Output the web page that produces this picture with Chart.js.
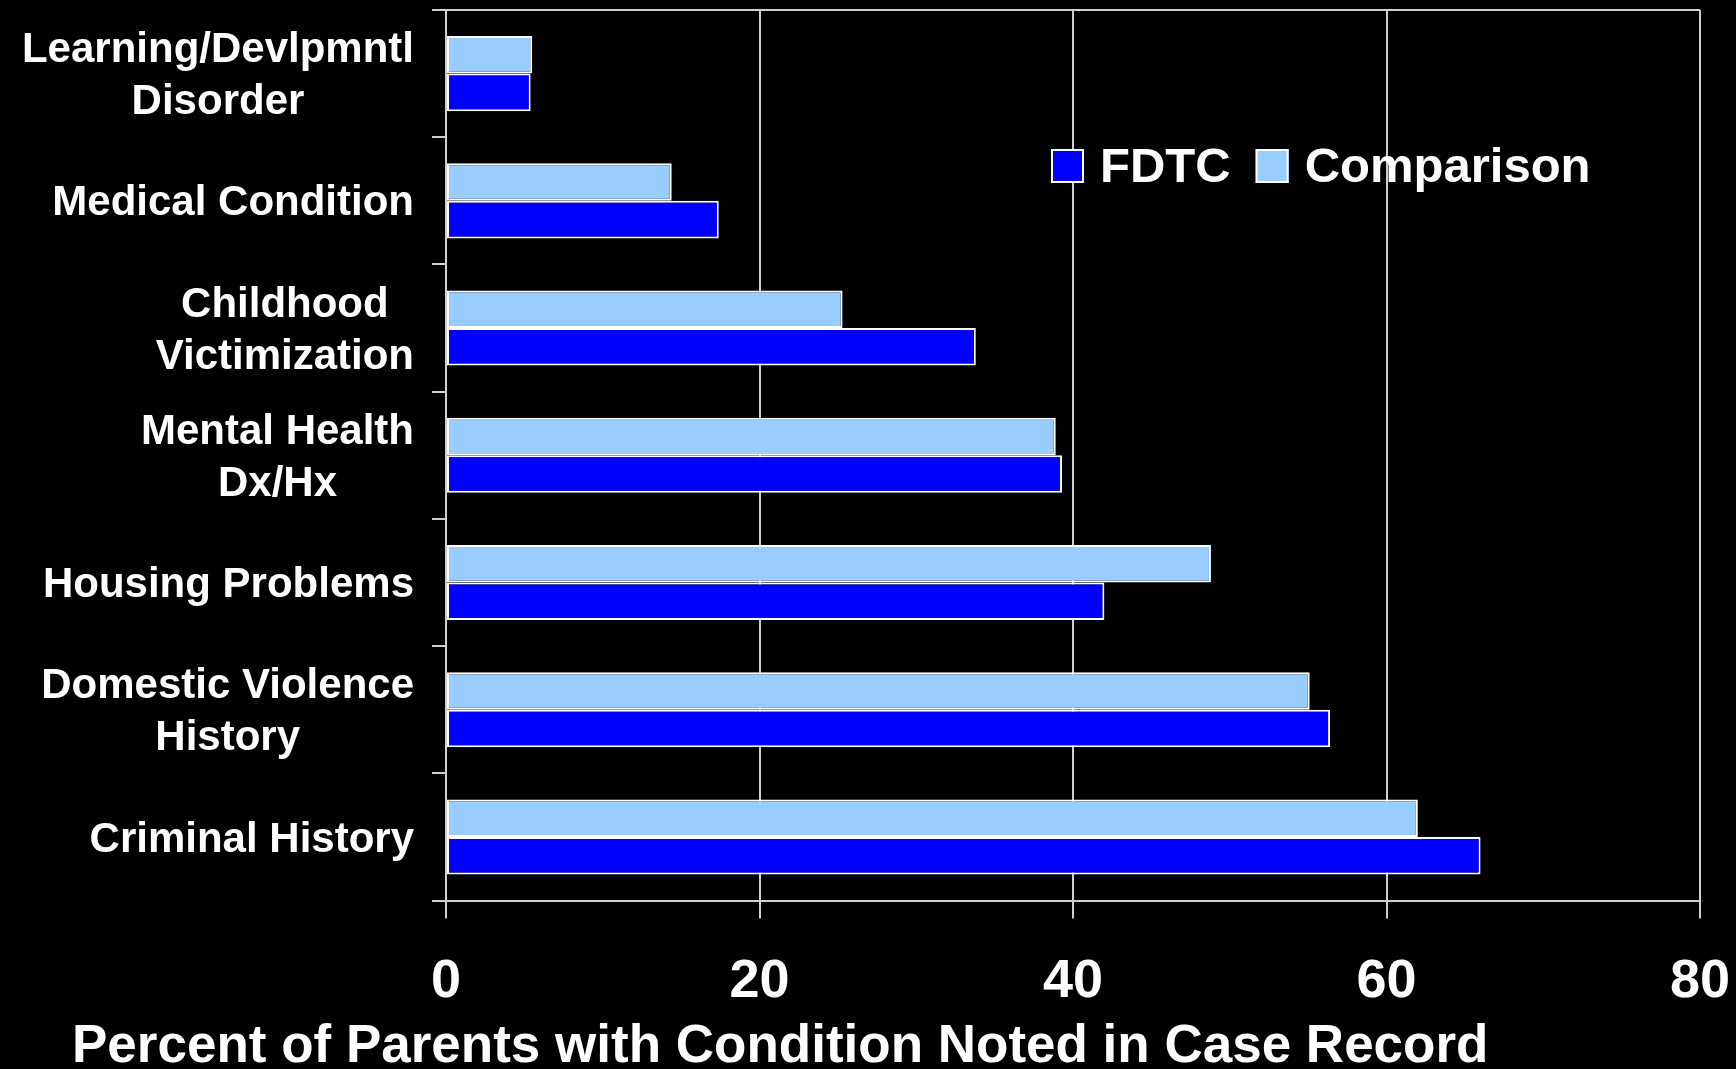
<!DOCTYPE html>
<html>
<head>
<meta charset="utf-8">
<script src="https://cdn.jsdelivr.net/npm/chart.js@4.4.1/dist/chart.umd.min.js"></script>
<style>
  html, body { margin: 0; padding: 0; background: #000; }
  canvas { display: block; }
</style>
</head>
<body>
<canvas id="chart" width="1736" height="1069"></canvas>
<script>
// categories top to bottom, each one split into its printed lines
const categories = [
  ['Learning/Devlpmntl', 'Disorder'],
  ['Medical Condition'],
  ['Childhood', 'Victimization'],
  ['Mental Health', 'Dx/Hx'],
  ['Housing Problems'],
  ['Domestic Violence', 'History'],
  ['Criminal History']
];
const fdtcValues = [5.4, 17.4, 33.8, 39.3, 42.0, 56.4, 66.0];
const comparisonValues = [5.5, 14.4, 25.3, 38.9, 48.8, 55.1, 62.0];
const xTicks = [0, 20, 40, 60, 80];
const axisTitle = 'Percent of Parents with Condition Noted in Case Record';

const FONT = '"Liberation Sans", Arial, sans-serif';
const LINE = '#cfcfcf';

Chart.defaults.font.family = FONT;
Chart.defaults.color = '#fff';

// category names: block right aligned, lines centred inside the block
const categoryLabels = {
  id: 'categoryLabels',
  afterDraw(chart) {
    const ctx = chart.ctx;
    const yScale = chart.scales.y;
    const right = chart.chartArea.left - 32;
    const lh = 52;
    ctx.save();
    ctx.font = 'bold 42px ' + FONT;
    ctx.fillStyle = '#fff';
    ctx.textAlign = 'center';
    ctx.textBaseline = 'middle';
    chart.data.labels.forEach((lines, i) => {
      const y = yScale.getPixelForTick(i) + 3;
      const w = Math.max(...lines.map(l => ctx.measureText(l).width));
      const cx = right - w / 2;
      const top = y - (lines.length - 1) * lh / 2;
      lines.forEach((l, j) => ctx.fillText(l, cx, top + j * lh));
    });
    ctx.restore();
  }
};

// legend sits inside the plot, FDTC first
const insideLegend = {
  id: 'insideLegend',
  afterDraw(chart) {
    const ctx = chart.ctx;
    const area = chart.chartArea;
    let x = area.left + 605;
    const y = area.top + 156;
    ctx.save();
    ctx.font = 'bold 49px ' + FONT;
    ctx.textBaseline = 'middle';
    ctx.textAlign = 'left';
    chart.data.datasets.slice().reverse().forEach(ds => {
      ctx.fillStyle = ds.backgroundColor;
      ctx.fillRect(x, y - 17, 33, 34);
      ctx.strokeStyle = '#fff';
      ctx.lineWidth = 2;
      ctx.strokeRect(x + 1, y - 16, 31, 32);
      x += 33 + 16;
      ctx.fillStyle = '#fff';
      ctx.fillText(ds.label, x, y + 2);
      x += ctx.measureText(ds.label).width + 25;
    });
    ctx.restore();
  }
};

new Chart(document.getElementById('chart'), {
  type: 'bar',
  data: {
    labels: categories,
    datasets: [
      {
        label: 'Comparison',
        data: comparisonValues,
        backgroundColor: '#99ccff',
        borderColor: '#ffffff',
        borderWidth: 2,
        borderSkipped: false
      },
      {
        label: 'FDTC',
        data: fdtcValues,
        backgroundColor: '#0000ff',
        borderColor: '#ffffff',
        borderWidth: 2,
        borderSkipped: false
      }
    ]
  },
  options: {
    indexAxis: 'y',
    responsive: false,
    animation: false,
    datasets: { bar: { categoryPercentage: 0.59, barPercentage: 1 } },
    layout: { padding: { top: 10, right: 36, bottom: 0, left: 72 } },
    scales: {
      x: {
        min: 0,
        max: 80,
        afterBuildTicks: s => { s.ticks = xTicks.map(v => ({ value: v })); },
        afterFit: s => { s.height = 126; },
        grid: { color: LINE, lineWidth: 2, tickLength: 18, tickColor: LINE },
        border: { display: true, color: LINE, width: 2 },
        // tall line height pushes the numbers down without widening the side padding
        ticks: { color: '#fff', font: { size: 54, weight: 'bold', lineHeight: 2.37 }, padding: 0, maxRotation: 0 }
      },
      y: {
        afterFit: s => { s.width = 374; },
        ticks: { display: false },
        grid: {
          offset: true,
          drawOnChartArea: true,
          color: c => c.index === 0 ? LINE : 'rgba(0,0,0,0)',
          tickColor: LINE,
          lineWidth: 2,
          tickLength: 14
        },
        border: { display: true, color: LINE, width: 2 }
      }
    },
    plugins: {
      legend: { display: false },
      tooltip: { enabled: false },
      title: {
        display: true,
        text: axisTitle,
        position: 'bottom',
        align: 'start',
        color: '#fff',
        font: { size: 53, weight: 'bold', lineHeight: 0.8 },
        padding: { top: 0, bottom: 0 }
      }
    }
  },
  plugins: [categoryLabels, insideLegend]
});
</script>
</body>
</html>
